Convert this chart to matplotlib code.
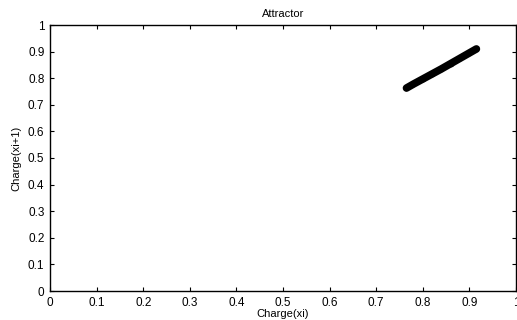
import matplotlib
matplotlib.use('Agg')
from matplotlib import pyplot as plt
import numpy as np

# Points of the charge map x(i) -> x(i+1) on the attractor
charge_xi = [0.765, 0.78, 0.80, 0.82, 0.84, 0.86, 0.88, 0.90, 0.915]
charge_xi1 = [0.763, 0.778, 0.797, 0.816, 0.835, 0.855, 0.875, 0.895, 0.910]

ticks = np.arange(0, 1.01, 0.1)
tick_labels = ['0', '0.1', '0.2', '0.3', '0.4', '0.5', '0.6', '0.7', '0.8', '0.9', '1']

plt.rcParams['font.family'] = ['Liberation Sans', 'DejaVu Sans']

fig = plt.figure(figsize=(5.17, 3.2), dpi=100)
ax = fig.add_axes([50 / 517, 1 - 291 / 320, 466 / 517, 266 / 320])

ax.plot(charge_xi, charge_xi1, color='black', linewidth=5.5,
        solid_capstyle='round', marker='.', markersize=6)

ax.set_xlim(0, 1)
ax.set_ylim(0, 1)
ax.set_xticks(ticks)
ax.set_yticks(ticks)
ax.set_xticklabels(tick_labels)
ax.set_yticklabels(tick_labels)
ax.tick_params(direction='in', top=True, right=True, length=3, width=0.8,
               labelsize=8.5, pad=4)
for s in ax.spines.values():
    s.set_linewidth(1.0)

ax.set_title('Attractor', fontsize=8, pad=6)
ax.set_xlabel('Charge(xi)', fontsize=8, labelpad=0)
ax.set_ylabel('Charge(xi+1)', fontsize=8, labelpad=5)

fig.savefig('out.png', dpi=100)
